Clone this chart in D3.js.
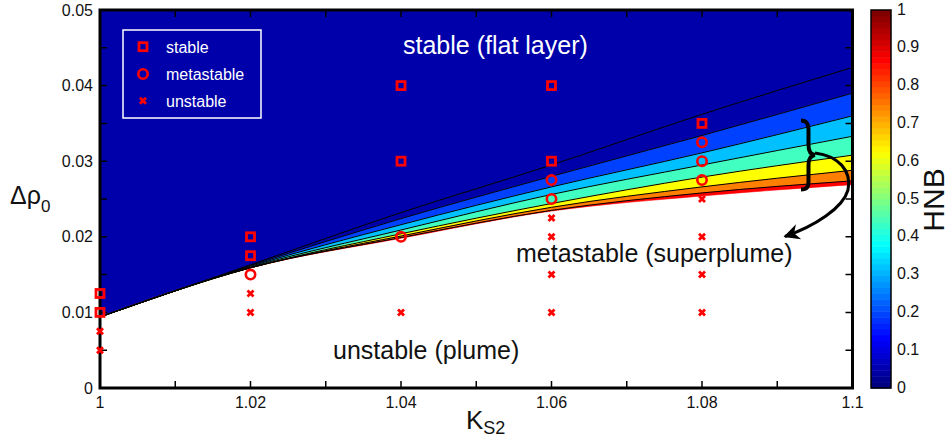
<!DOCTYPE html>
<html>
<head>
<meta charset="utf-8">
<script src="https://cdn.jsdelivr.net/npm/d3@7/dist/d3.min.js"></script>
<style>
  body { margin: 0; background: #fff; }
  #wrap { position: relative; width: 950px; height: 440px; }
  svg { position: absolute; left: 0; top: 0; display: block; font-family: Arial, "Liberation Sans", sans-serif; }
</style>
</head>
<body>
<div id="wrap">
<svg id="chart" width="950" height="440"></svg>
<svg id="overlay" width="950" height="440"></svg>
</div>
<script>
// K_S2 positions where the contour boundaries were read
var kS2 = [1, 1.02, 1.04, 1.06, 1.08, 1.1];

// HNB contour lines, top (low HNB) to bottom (high HNB)
var contour1 = [0.0094, 0.0163, 0.0232, 0.0295, 0.0362, 0.0424];
var contour2 = [0.0094, 0.0162, 0.0224, 0.0280, 0.0334, 0.0390];
var contour3 = [0.0094, 0.0161, 0.0216, 0.0266, 0.0311, 0.0360];
var contour4 = [0.0094, 0.0160, 0.0209, 0.0256, 0.0295, 0.0333];
var contour5 = [0.0094, 0.0159, 0.0204, 0.0244, 0.0279, 0.0308];
var contour6 = [0.0094, 0.0159, 0.0201, 0.0239, 0.0266, 0.0288];
var contour7 = [0.0094, 0.0159, 0.0199, 0.0235, 0.0258, 0.0274];
// lower edge of the coloured region (white below = unstable)
var stableEdge = [0.0094, 0.0159, 0.0198, 0.0234, 0.0254, 0.0269];

// simulation runs
var stableK = [1, 1, 1.02, 1.02, 1.04, 1.04, 1.06, 1.06, 1.08];
var stableRho = [0.0125, 0.01, 0.02, 0.0175, 0.04, 0.03, 0.04, 0.03, 0.035];
var metastableK = [1.02, 1.04, 1.06, 1.06, 1.08, 1.08, 1.08];
var metastableRho = [0.015, 0.02, 0.0275, 0.025, 0.0325, 0.03, 0.0275];
var unstableK = [1, 1, 1.02, 1.02, 1.04, 1.06, 1.06, 1.06, 1.06, 1.08, 1.08, 1.08, 1.08];
var unstableRho = [0.0075, 0.005, 0.0125, 0.01, 0.01, 0.0225, 0.02, 0.015, 0.01, 0.025, 0.02, 0.015, 0.01];

// tick labels
var xTickLabels = ['1', '1.02', '1.04', '1.06', '1.08', '1.1'];
var yTickLabels = ['0', '0.01', '0.02', '0.03', '0.04', '0.05'];
var cbTickLabels = ['0', '0.1', '0.2', '0.3', '0.4', '0.5', '0.6', '0.7', '0.8', '0.9', '1'];

var svg = d3.select('#chart');
var over = d3.select('#overlay');

var x = d3.scaleLinear().domain([1, 1.1]).range([100, 852.5]);
var y = d3.scaleLinear().domain([0, 0.05]).range([388, 10]);

function jet(v) {
    function c(t) { return Math.round(255 * Math.max(0, Math.min(1, t))); }
    return d3.rgb(c(1.5 - Math.abs(4 * v - 3)), c(1.5 - Math.abs(4 * v - 2)), c(1.5 - Math.abs(4 * v - 1))).toString();
}

//---- filled contour bands
var ceiling = kS2.map(function() { return 0.05; });
var bands = [
    [ceiling, contour2, '#0000aa'],
    [contour2, contour3, '#0040ff'],
    [contour3, contour4, '#00c0ff'],
    [contour4, contour5, '#40ffc0'],
    [contour5, contour6, '#ffff00'],
    [contour6, contour7, '#ff8000'],
    [contour7, stableEdge, '#ff0000']
];
bands.forEach(function(b) {
    var area = d3.area()
        .x(function(d, i) { return x(kS2[i]); })
        .y0(function(d, i) { return y(b[1][i]); })
        .y1(function(d, i) { return y(b[0][i]); })
        .curve(d3.curveMonotoneX);
    svg.append('path').attr('d', area(kS2)).attr('fill', b[2]).attr('stroke', b[2]).attr('stroke-width', 0.5);
});

var contourLine = d3.line()
    .x(function(d, i) { return x(kS2[i]); })
    .y(function(d) { return y(d); })
    .curve(d3.curveMonotoneX);
[contour1, contour2, contour3, contour4, contour5, contour6, contour7].forEach(function(c) {
    svg.append('path').attr('d', contourLine(c)).attr('fill', 'none').attr('stroke', '#000').attr('stroke-width', 1);
});

//---- tick labels
var yTicks = d3.range(0, 11).map(function(i) { return i * 0.005; });
var xTicks = d3.range(0, 11).map(function(i) { return 1 + i * 0.01; });

svg.append('g').selectAll('text').data(yTickLabels).enter().append('text')
    .attr('x', 93).attr('y', function(d) { return y(+d); })
    .attr('dy', '0.35em').attr('text-anchor', 'end')
    .attr('font-size', 16).attr('fill', '#111').text(function(d) { return d; });
svg.append('g').selectAll('text').data(xTickLabels).enter().append('text')
    .attr('x', function(d) { return x(+d); }).attr('y', 408)
    .attr('text-anchor', 'middle')
    .attr('font-size', 16).attr('fill', '#111').text(function(d) { return d; });

//---- legend
var red = '#ff0000';
function cross(cx, cy, s) {
    return 'M' + (cx - s) + ',' + (cy - s) + 'L' + (cx + s) + ',' + (cy + s) +
        'M' + (cx - s) + ',' + (cy + s) + 'L' + (cx + s) + ',' + (cy - s);
}
var lg = svg.append('g');
lg.append('rect').attr('x', 123).attr('y', 30).attr('width', 138).attr('height', 88)
    .attr('fill', 'none').attr('stroke', '#fff').attr('stroke-width', 1.5);
lg.append('rect').attr('x', 139).attr('y', 42.7).attr('width', 8).attr('height', 8)
    .attr('fill', 'none').attr('stroke', red).attr('stroke-width', 2.8);
lg.append('circle').attr('cx', 143).attr('cy', 74).attr('r', 4.7)
    .attr('fill', 'none').attr('stroke', red).attr('stroke-width', 2.6);
lg.append('path').attr('d', cross(143, 100.7, 3)).attr('stroke', red).attr('stroke-width', 2.8);
[['stable', 46.7], ['metastable', 74], ['unstable', 100.7]].forEach(function(r) {
    lg.append('text').attr('x', 166).attr('y', r[1] + 5.8).attr('font-size', 16)
        .attr('fill', '#fff').text(r[0]);
});

//---- region labels
svg.append('text').attr('x', 403).attr('y', 54).attr('font-size', 25).attr('fill', '#fff').text('stable (flat layer)');
svg.append('text').attr('x', 516).attr('y', 262).attr('font-size', 25).attr('fill', '#111').text('metastable (superplume)');
svg.append('text').attr('x', 333).attr('y', 359).attr('font-size', 25).attr('fill', '#111').text('unstable (plume)');

//---- brace and arrow
svg.append('defs').append('marker').attr('id', 'head')
    .attr('viewBox', '0 0 10 10').attr('refX', 9).attr('refY', 5)
    .attr('markerUnits', 'userSpaceOnUse').attr('markerWidth', 18).attr('markerHeight', 16)
    .attr('orient', 'auto')
    .append('path').attr('d', 'M0,0L10,5L0,10L3,5Z').attr('fill', '#000');
svg.append('path')
    .attr('d', 'M801,120.5C807,120.5 808.5,124 808.5,130L808.5,145C808.5,151 810,154.5 815,155' +
        'C810,155.5 808.5,159 808.5,165L808.5,181C808.5,187 807,189.5 801,189.5')
    .attr('fill', 'none').attr('stroke', '#000').attr('stroke-width', 4);
svg.append('path')
    .attr('d', 'M815,153C838,156 852,170 848,190C843,208 815,226 785,236.5')
    .attr('fill', 'none').attr('stroke', '#000').attr('stroke-width', 3)
    .attr('marker-end', 'url(#head)');

//---- axis titles
var yl = svg.append('text').attr('x', 10).attr('y', 204).attr('font-size', 25).attr('fill', '#111');
yl.append('tspan').text('Δρ');
yl.append('tspan').attr('font-size', 17).attr('dy', 8).text('0');
var xl = svg.append('text').attr('x', 466).attr('y', 429).attr('font-size', 26).attr('fill', '#111');
xl.append('tspan').text('K');
xl.append('tspan').attr('font-size', 18).attr('dy', 5).text('S2');

//---- colorbar
var cb = d3.scaleLinear().domain([0, 1]).range([388, 10]);
var steps = d3.range(64);
svg.append('g').selectAll('rect').data(steps).enter().append('rect')
    .attr('x', 871).attr('width', 20)
    .attr('y', function(d) { return cb((d + 1) / 64); })
    .attr('height', cb(0) - cb(1 / 64) + 0.5)
    .attr('fill', function(d) { return jet(d / 63); });
svg.append('rect').attr('x', 871).attr('y', 10).attr('width', 20).attr('height', 378)
    .attr('fill', 'none').attr('stroke', '#000').attr('stroke-width', 1.5);
svg.append('g').selectAll('text').data(cbTickLabels).enter().append('text')
    .attr('x', 897).attr('y', function(d, i) { return cb(i / 10) - 1; })
    .attr('dy', '0.35em').attr('font-size', 16).attr('fill', '#111')
    .text(function(d) { return d; });
svg.append('text').attr('transform', 'translate(944,200) rotate(-90)')
    .attr('text-anchor', 'middle').attr('font-size', 30).attr('fill', '#111').text('HNB');

//---- frame with inward ticks, in the overlay layer
over.append('path')
    .attr('d', 'M100,10H852.5V388H100Z')
    .attr('fill', 'none').attr('stroke', '#000').attr('stroke-width', 3);
over.append('g').selectAll('path').data(yTicks).enter().append('path')
    .attr('d', function(d) { return 'M100,' + y(d) + 'H107M852.5,' + y(d) + 'H845.5'; })
    .attr('fill', 'none').attr('stroke', '#000').attr('stroke-width', 1.5);
over.append('g').selectAll('path').data(xTicks).enter().append('path')
    .attr('d', function(d) { return 'M' + x(d) + ',388V381M' + x(d) + ',10V17'; })
    .attr('fill', 'none').attr('stroke', '#000').attr('stroke-width', 1.5);

//---- markers (on top of the frame)
over.append('g').selectAll('rect').data(stableK).enter().append('rect')
    .attr('x', function(d) { return x(d) - 4; })
    .attr('y', function(d, i) { return y(stableRho[i]) - 4; })
    .attr('width', 8).attr('height', 8)
    .attr('fill', 'none').attr('stroke', red).attr('stroke-width', 2.8);
over.append('g').selectAll('circle').data(metastableK).enter().append('circle')
    .attr('cx', function(d) { return x(d); })
    .attr('cy', function(d, i) { return y(metastableRho[i]); })
    .attr('r', 4.7)
    .attr('fill', 'none').attr('stroke', red).attr('stroke-width', 2.6);
over.append('g').selectAll('path').data(unstableK).enter().append('path')
    .attr('d', function(d, i) { return cross(x(d), y(unstableRho[i]), 3); })
    .attr('stroke', red).attr('stroke-width', 2.8).attr('fill', 'none');
</script>
</body>
</html>
